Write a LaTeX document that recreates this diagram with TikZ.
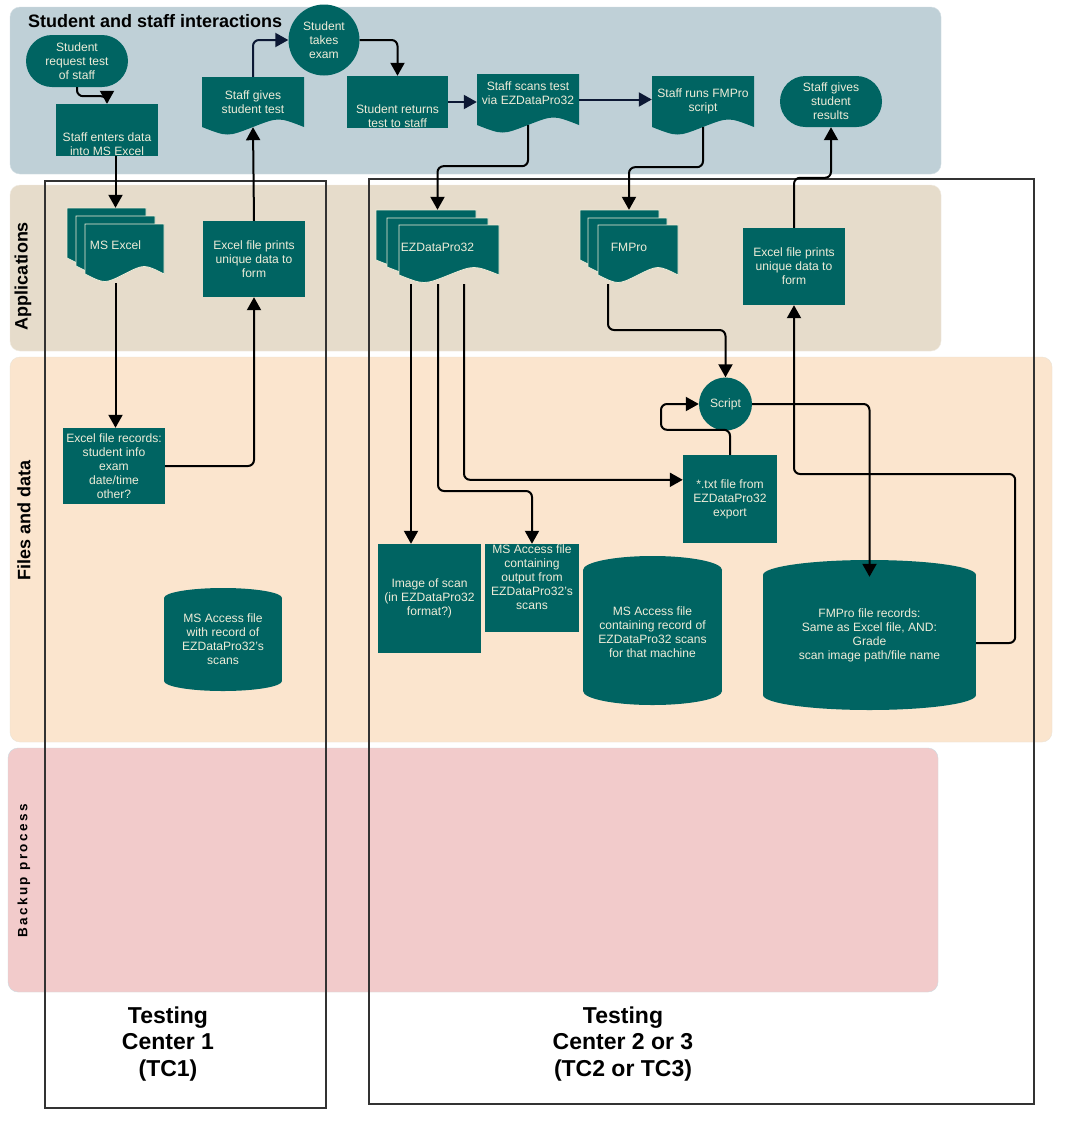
\documentclass[tikz,border=0pt]{standalone}
\usepackage{fontspec}
\setmainfont{Liberation Sans}
\usetikzlibrary{arrows.meta,calc}

\definecolor{teal1}{RGB}{0,100,98}
\definecolor{cream}{RGB}{238,236,216}
\definecolor{laneA}{RGB}{191,208,215}
\definecolor{laneB}{RGB}{230,220,203}
\definecolor{laneC}{RGB}{251,229,206}
\definecolor{laneD}{RGB}{242,203,203}
\definecolor{navy}{RGB}{12,24,52}
\definecolor{tcline}{RGB}{51,51,51}

\newcommand\docshp[4]{\fill[teal1] (#1,#2) -- (#3,#2) -- (#3,#4) .. controls ({#1+0.75*(#3-#1)},{#4-10}) .. ({0.5*(#1+#3)},#4) .. controls ({#1+0.25*(#3-#1)},{#4+10}) .. (#1,#4) -- cycle;}
\newcommand\mdocl[4]{\filldraw[fill=teal1, draw=cream, line width=0.8pt] (#1,#2) -- (#3,#2) -- (#3,#4) .. controls ({#1+0.75*(#3-#1)},{#4-10}) .. ({0.5*(#1+#3)},#4) .. controls ({#1+0.25*(#3-#1)},{#4+10}) .. (#1,#4) -- cycle;}
\newcommand\cylshp[5]{%
  \fill[teal1] ({#1-#2},{#3+#5}) rectangle ({#1+#2},{#4-#5});
  \fill[teal1] (#1,{#3+#5}) ellipse [x radius=#2pt, y radius=#5pt];
  \fill[teal1] (#1,{#4-#5}) ellipse [x radius=#2pt, y radius=#5pt];}

\tikzset{
  txt/.style={text=cream, font=\fontsize{12.1}{14}\selectfont, align=center},
  tbox/.style={txt, fill=teal1, inner sep=0pt},
  area/.style={txt, inner sep=0pt},
  conn/.style={line width=2pt, rounded corners=6pt, -{Triangle[length=13pt,width=14pt]}},
  connN/.style={conn, draw=navy, -{Triangle[length=13pt,width=14pt,fill=navy]}},
  lanelbl/.style={font=\bfseries\fontsize{18}{21}\selectfont, inner sep=0pt},
  tclbl/.style={font=\bfseries\fontsize{23}{26.5}\selectfont, align=center, inner sep=0pt},
  tcbox/.style={draw=tcline, line width=2pt}
}

\begin{document}
\begin{tikzpicture}[x=1pt,y=-1pt]
\fill[white] (0,0) rectangle (1072,1128);
\useasboundingbox (0,0) rectangle (1072,1128);

% lanes
\filldraw[fill=laneA, draw=laneA!70!white, rounded corners=10pt] (10,7) rectangle (941,174);
\filldraw[fill=laneB, draw=laneB!60!white, rounded corners=10pt] (10,185) rectangle (941,351);
\filldraw[fill=laneC, draw=laneB!80!white, rounded corners=10pt] (10,357) rectangle (1052,742);
\filldraw[fill=laneD, draw=laneA!80!white, rounded corners=10pt] (8,748) rectangle (938,992);

\node[lanelbl, anchor=west] (l1) at (28,21) {Student and staff interactions};
\node[lanelbl, rotate=90] (l2) at (23,276) {Applications};
\node[lanelbl, rotate=90] (l3) at (24,520) {Files and data};
\node[font=\bfseries\fontsize{13.5}{16}\selectfont\addfontfeatures{LetterSpace=18}, inner sep=0pt, rotate=90] (l4) at (24,871) {Backup process};

% testing centres
\draw[tcbox] (45,181) rectangle (326,1108);
\draw[tcbox] (369,179) rectangle (1034,1104);
\node[tclbl] (tc1) at (168,1044) {Testing\\Center 1\\(TC1)};
\node[tclbl] (tc2) at (623,1044) {Testing\\Center 2 or 3\\(TC2 or TC3)};

% top lane
\node[tbox, rounded corners=26pt, minimum width=102pt, minimum height=52pt] (sreq) at (77,61) {Student\\request test\\of staff};
\node[tbox, minimum width=102pt, minimum height=52pt, label={[txt,yshift=-14pt]center:{Staff enters data\\into MS Excel}}] (sent) at (107,130) {};
\docshp{202}{77}{304}{127}
\node[area, minimum width=102pt, minimum height=50pt] (sgst) at (253,102) {Staff gives\\student test};
\node[tbox, circle, minimum size=71pt] (sexam) at (324,40) {Student\\takes\\exam};
\node[tbox, minimum width=101pt, minimum height=52pt, label={[txt,yshift=-14pt]center:{Student returns\\test to staff}}] (sret) at (397.5,102) {};
\docshp{477}{74}{579}{125}
\node[area, minimum width=102pt, minimum height=51pt, label={[txt,yshift=6.5pt]center:{Staff scans test\\via EZDataPro32}}] (sscan) at (528,99.5) {};
\docshp{652}{76}{754}{127}
\node[area, minimum width=102pt, minimum height=51pt] (srun) at (703,101.5) {Staff runs FMPro\\script};
\node[tbox, rounded corners=25.5pt, minimum width=102pt, minimum height=51pt] (sgres) at (831,101.5) {Staff gives\\student\\results};

% applications
\mdocl{67}{208}{146}{258}
\mdocl{76}{216}{155}{266}
\mdocl{85}{224}{164}{274}
\node[area, minimum width=97pt, minimum height=75pt] (xl) at (115.5,245.5) {MS Excel};
\node[tbox, minimum width=102pt, minimum height=76pt] (xp1) at (254,259) {Excel file prints\\unique data to\\form};
\mdocl{376}{210}{476}{260}
\mdocl{387}{218}{488}{267}
\mdocl{399}{225}{499}{275}
\node[area, minimum width=123pt, minimum height=74pt] (ez) at (437.5,247) {EZDataPro32};
\mdocl{580}{210}{659}{260}
\mdocl{588}{218}{667}{267}
\mdocl{598}{225}{678}{275}
\node[area, minimum width=98pt, minimum height=74pt] (fm) at (629,247) {FMPro};
\node[tbox, minimum width=102pt, minimum height=77pt] (xp2) at (794,266.5) {Excel file prints\\unique data to\\form};

% files and data
\node[tbox, minimum width=102pt, minimum height=76pt] (xrec) at (114,466) {Excel file records:\\student info\\exam\\date/time\\other?};
\cylshp{223}{59}{588}{691}{10}
\node[area, minimum width=118pt, minimum height=103pt] (acc1) at (223,639.5) {MS Access file\\with record of\\EZDataPro32's\\scans};
\node[tbox, circle, minimum size=53pt] (scr) at (725.5,404) {Script};
\node[tbox, minimum width=94pt, minimum height=88pt] (txt) at (730,499) {*.txt file from\\EZDataPro32\\export};
\node[tbox, minimum width=103pt, minimum height=109pt] (img) at (429.5,598.5) {Image of scan\\(in EZDataPro32\\format?)};
\node[tbox, minimum width=94pt, minimum height=88pt, label={[txt,yshift=11pt]center:{MS Access file\\containing\\output from\\EZDataPro32's\\scans}}] (acc) at (532,588) {};
\cylshp{652.5}{69.5}{556}{705}{14}
\node[area, minimum width=139pt, minimum height=149pt] (accrec) at (652.5,632) {MS Access file\\containing record of\\EZDataPro32 scans\\for that machine};
\cylshp{869.5}{106.5}{560}{710}{15}
\node[area, minimum width=213pt, minimum height=150pt] (fmrec) at (869.5,635) {FMPro file records:\\Same as Excel file, AND:\\Grade\\scan image path/file name};

% connectors
\coordinate (ezo1) at (411,284);
\coordinate (ezo2) at (438,284);
\coordinate (ezo3) at (464,284);
\coordinate (fmo) at (608,284);

\draw[conn] (sreq.south) -- ++(0,9) -| (sent.north);
\draw[connN] (sgst.north) |- (sexam.west);
\draw[conn] (sexam.east) -| (sret.north);
\draw[connN] (sret.east) -- (sret.east -| sscan.west);
\draw[connN] (sscan.east) -- (sscan.east -| srun.west);
\draw[conn] (sscan.south) -- ++(0,41) -| (ez.north);
\draw[conn] (srun.south) -- ++(0,40) -| (fm.north);
\draw[conn] (xp2.north) -- ++(0,-50) -| (sgres.south);
\draw[conn] (xp1.north) -- (sgst.south);
\draw[conn] (sent.south -| xl.north) -- (xl.north);
\draw[conn] (xl.south) -- (xl.south |- xrec.north);
\draw[conn] (xrec.east) -| (xp1.south);
\draw[conn] (ezo1) -- (ezo1 |- img.north);
\draw[conn] (ezo2) -- ++(0,207) -| (acc.north);
\draw[conn] (ezo3) |- ($(txt.north west)+(0,25)$);
\draw[conn] (fmo) -- ++(0,46) -| (scr.north);
\draw[conn] (txt.north) -- ++(0,-25) -- ++(-69,0) |- (scr.west);
\draw[conn] (scr.east) -| ($(fmrec.north)+(0,17)$);
\draw[conn] ($(fmrec.east)+(0,8)$) -- ++(39,0) -- ++(0,-169) -| (xp2.south);
\end{tikzpicture}
\end{document}
